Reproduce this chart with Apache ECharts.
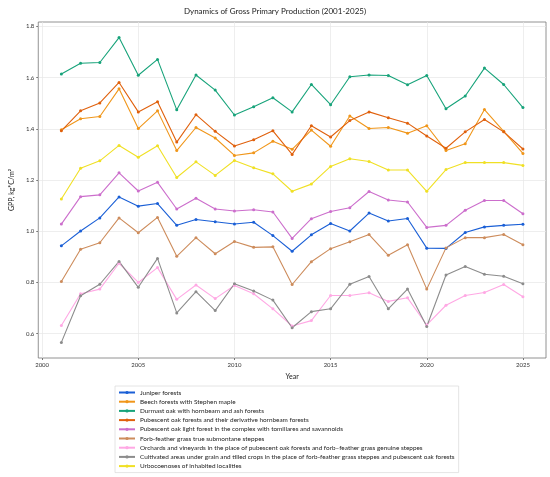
<!doctype html>
<html lang="en">
<head>
    <meta charset="UTF-8">
    <title>Dynamics of Gross Primary Production</title>
    <script src="https://cdn.jsdelivr.net/npm/echarts@6/dist/echarts.min.js"></script>
    <style>
        html, body { margin: 0; padding: 0; background: #fff; }
        #main { width: 550px; height: 477px; }
    </style>
</head>
<body>
<div id="main"></div>
<script>
    var years = [2001, 2002, 2003, 2004, 2005, 2006, 2007, 2008, 2009, 2010, 2011, 2012, 2013,
        2014, 2015, 2016, 2017, 2018, 2019, 2020, 2021, 2022, 2023, 2024, 2025];
    var xTicks = [2000, 2005, 2010, 2015, 2020, 2025];
    var yTicks = [0.6, 0.8, 1.0, 1.2, 1.4, 1.6, 1.8];

    var names = [
        'Juniper forests',
        'Beech forests with Stephen maple',
        'Durmast oak with hornbeam and ash forests',
        'Pubescent oak forests and their derivative hornbeam forests',
        'Pubescent oak light forest in the complex with tomillares and savannoids',
        'Forb-feather grass true submontane steppes',
        'Orchards and vineyards in the place of pubescent oak forests and forb–feather grass genuine steppes',
        'Cultivated areas under grain and tilled crops in the place of forb-feather grass steppes and pubescent oak forests',
        'Urbocoenoses of inhabited localities'
    ];
    var colors = ['#1a5fd6', '#f0961a', '#17a37a', '#e0600c', '#cc6ecc', '#cd8c5c', '#ffa8e4', '#8c8c8c', '#f0e024'];

    var juniper  = [0.943, 1.001, 1.052, 1.134, 1.098, 1.108, 1.023, 1.046, 1.037, 1.028, 1.035, 0.983, 0.922,
        0.986, 1.030, 1.001, 1.071, 1.040, 1.050, 0.934, 0.933, 0.995, 1.017, 1.023, 1.027];
    var beech    = [1.396, 1.439, 1.448, 1.556, 1.401, 1.470, 1.315, 1.405, 1.364, 1.296, 1.306, 1.351, 1.320,
        1.395, 1.332, 1.450, 1.401, 1.405, 1.383, 1.412, 1.315, 1.342, 1.475, 1.390, 1.304];
    var durmast  = [1.614, 1.656, 1.659, 1.756, 1.609, 1.671, 1.474, 1.610, 1.551, 1.454, 1.486, 1.521, 1.466,
        1.573, 1.494, 1.603, 1.610, 1.608, 1.572, 1.608, 1.478, 1.528, 1.637, 1.573, 1.483];
    var pubOak   = [1.392, 1.470, 1.501, 1.581, 1.466, 1.506, 1.348, 1.455, 1.390, 1.333, 1.357, 1.392, 1.300,
        1.412, 1.368, 1.432, 1.466, 1.443, 1.422, 1.372, 1.324, 1.388, 1.436, 1.388, 1.321];
    var pubLight = [1.028, 1.135, 1.142, 1.228, 1.157, 1.191, 1.087, 1.129, 1.087, 1.079, 1.084, 1.075, 0.972,
        1.049, 1.077, 1.092, 1.155, 1.122, 1.114, 1.015, 1.023, 1.082, 1.120, 1.120, 1.068];
    var steppes  = [0.804, 0.930, 0.955, 1.052, 0.994, 1.054, 0.902, 0.975, 0.912, 0.960, 0.937, 0.939, 0.792,
        0.881, 0.932, 0.959, 0.987, 0.906, 0.947, 0.774, 0.935, 0.975, 0.975, 0.987, 0.947];
    var orchards = [0.632, 0.756, 0.774, 0.875, 0.800, 0.858, 0.734, 0.790, 0.737, 0.788, 0.756, 0.697, 0.630,
        0.651, 0.749, 0.749, 0.760, 0.726, 0.740, 0.634, 0.711, 0.749, 0.761, 0.792, 0.744];
    var cultiv   = [0.566, 0.748, 0.793, 0.882, 0.781, 0.894, 0.681, 0.764, 0.690, 0.795, 0.767, 0.731, 0.623,
        0.686, 0.697, 0.793, 0.823, 0.697, 0.774, 0.628, 0.829, 0.862, 0.832, 0.824, 0.795];
    var urbo     = [1.126, 1.246, 1.275, 1.335, 1.289, 1.334, 1.210, 1.271, 1.218, 1.276, 1.248, 1.224, 1.156,
        1.184, 1.253, 1.283, 1.272, 1.239, 1.239, 1.156, 1.241, 1.268, 1.268, 1.268, 1.257];

    var values = [juniper, beech, durmast, pubOak, pubLight, steppes, orchards, cultiv, urbo];

    var font = 'Lato';
    var myChart = echarts.init(document.getElementById('main'), null, {renderer: 'canvas'});

    var series = values.map(function (vals, i) {
        return {
            name: names[i],
            type: 'line',
            data: vals.map(function (v, k) { return [years[k], v]; }),
            symbol: 'circle',
            symbolSize: 3,
            lineStyle: {width: 1.1, color: colors[i]},
            itemStyle: {color: colors[i]},
            emphasis: {disabled: true},
            animation: false
        };
    });

    var option = {
        backgroundColor: '#fff',
        title: {
            text: 'Dynamics of Gross Primary Production (2001-2025)',
            left: 'center',
            top: 2,
            textStyle: {fontFamily: font, fontSize: 8, fontWeight: 'normal', color: '#222'}
        },
        grid: {
            left: 26, right: 4, top: 22, bottom: 119,
            show: true, borderColor: '#777', borderWidth: 0.8
        },
        legend: {
            orient: 'vertical',
            left: 115,
            top: 386,
            padding: [3, 4, 3, 3],
            itemWidth: 16,
            itemHeight: 4,
            itemGap: 2.2,
            borderColor: '#ddd',
            borderWidth: 0.8,
            textStyle: {fontFamily: font, fontSize: 6.4, lineHeight: 7, color: '#222', padding: [0, 0, 0, 0]},
            data: names
        },
        xAxis: {
            type: 'value',
            min: 1999.8,
            max: 2026.2,
            name: 'Year',
            nameLocation: 'middle',
            nameGap: 14,
            nameTextStyle: {fontFamily: font, fontSize: 7, color: '#222'},
            axisLine: {show: false},
            axisTick: {show: true, customValues: xTicks, length: 2, lineStyle: {color: '#777'}},
            axisLabel: {
                customValues: xTicks, fontFamily: font, fontSize: 6, color: '#333', margin: 4,
                formatter: function (v) { return String(Math.round(v)); }
            },
            splitLine: {show: true, lineStyle: {color: '#e6e6e6', width: 0.7}}
        },
        yAxis: {
            type: 'value',
            min: 0.505,
            max: 1.817,
            name: 'GPP, kg*C/m²',
            nameLocation: 'middle',
            nameGap: 15,
            nameTextStyle: {fontFamily: font, fontSize: 7, color: '#222'},
            axisLine: {show: false},
            axisTick: {show: true, customValues: yTicks, length: 2, lineStyle: {color: '#777'}},
            axisLabel: {
                customValues: yTicks, fontFamily: font, fontSize: 6, color: '#333', margin: 4,
                formatter: function (v) { return v.toFixed(1); }
            },
            splitLine: {show: true, lineStyle: {color: '#e6e6e6', width: 0.7}}
        },
        series: series
    };
    myChart.setOption(option);
</script>
</body>
</html>
